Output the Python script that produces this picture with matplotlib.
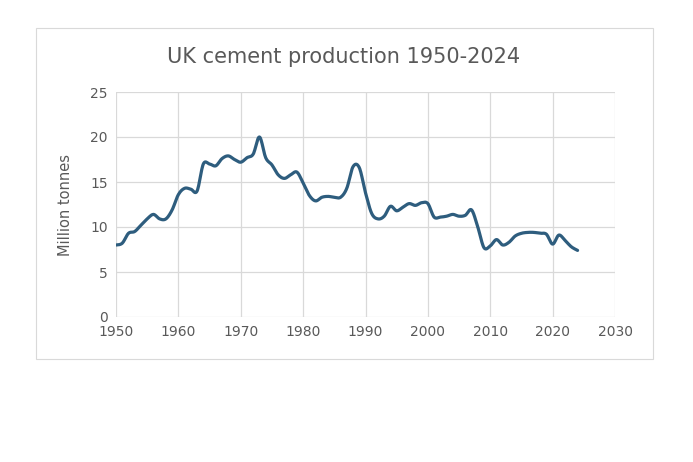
import numpy as np
import matplotlib
matplotlib.use("Agg")
import matplotlib.pyplot as plt
from matplotlib.patches import Rectangle

YEARS = list(range(1950, 2025))
PRODUCTION = [
    8.0, 8.2, 9.3, 9.5, 10.2, 10.9, 11.4, 10.9, 10.9, 11.9,
    13.6, 14.3, 14.2, 14.0, 17.0, 17.0, 16.8, 17.6, 17.9, 17.5,
    17.2, 17.7, 18.1, 20.0, 17.7, 16.9, 15.8, 15.4, 15.8, 16.1,
    14.9, 13.5, 12.9, 13.3, 13.4, 13.3, 13.3, 14.3, 16.7, 16.6,
    13.8, 11.5, 10.9, 11.2, 12.3, 11.8, 12.2, 12.6, 12.4, 12.7,
    12.6, 11.1, 11.1, 11.2, 11.4, 11.2, 11.3, 11.9, 10.0, 7.7,
    7.9, 8.6, 8.0, 8.3, 9.0, 9.3, 9.4, 9.4, 9.3, 9.2,
    8.1, 9.1, 8.5, 7.8, 7.4,
]
TITLE = "UK cement production 1950-2024"
YLABEL = "Million tonnes"

TEXT = "#595959"
GRID = "#d9d9d9"
LINE = "#2e5d7e"


def smooth(x, y, n=12):
    # Catmull-Rom curve through the points, like Excel's "smoothed line"
    x = np.asarray(x, float); y = np.asarray(y, float)
    px = np.concatenate([[x[0]], x, [x[-1]]]); py = np.concatenate([[y[0]], y, [y[-1]]])
    t = np.linspace(0, 1, n, endpoint=False)
    ox, oy = [], []
    for i in range(1, len(x)):
        for p, o in ((px, ox), (py, oy)):
            p0, p1, p2, p3 = p[i - 1], p[i], p[i + 1], p[i + 2]
            o.extend(0.5 * (2 * p1 + (-p0 + p2) * t + (2 * p0 - 5 * p1 + 4 * p2 - p3) * t**2
                            + (-p0 + 3 * p1 - 3 * p2 + p3) * t**3))
    ox.append(x[-1]); oy.append(y[-1])
    return ox, oy


fig = plt.figure(figsize=(6.93, 4.62), dpi=100)
fig.patches.append(Rectangle((36 / 693, 1 - 359 / 462), 617 / 693, 331 / 462,
                             transform=fig.transFigure, fill=False, ec=GRID, lw=0.8))
ax = fig.add_axes([116 / 693, 1 - 317 / 462, 499 / 693, 225 / 462])
sx, sy = smooth(YEARS, PRODUCTION)
ax.plot(sx, sy, color=LINE, lw=2.3, solid_capstyle="round")
ax.set_xlim(1950, 2030); ax.set_ylim(0, 25)
ax.set_xticks(range(1950, 2031, 10)); ax.set_yticks(range(0, 26, 5))
ax.grid(True, color=GRID, lw=0.9)
ax.set_axisbelow(True)
for s in ax.spines.values():
    s.set_visible(False)
ax.tick_params(length=0, colors=TEXT, labelsize=10, pad=6)
ax.set_ylabel(YLABEL, color=TEXT, fontsize=10.5, labelpad=12)
fig.text(344 / 693, 1 - 57 / 462, TITLE, ha="center", va="center", color=TEXT, fontsize=15)
fig.savefig("out.png", dpi=100)
